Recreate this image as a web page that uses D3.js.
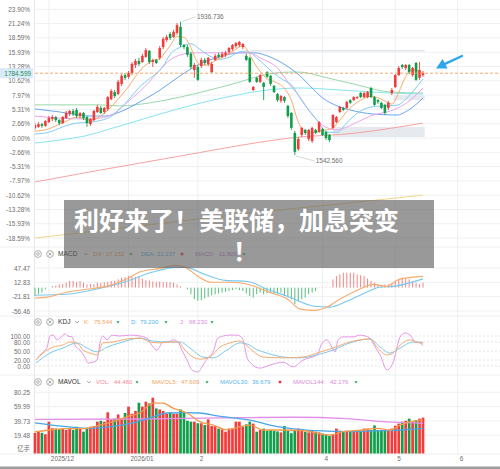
<!DOCTYPE html>
<html><head><meta charset="utf-8">
<script src="https://cdn.jsdelivr.net/npm/d3@7"></script>
<style>html,body{margin:0;padding:0;background:#fff;}svg{display:block;font-family:"Liberation Sans",Arial,sans-serif;}</style>
</head><body><svg id="c" width="500" height="469"></svg>
<script>
// ---------------- DATA ----------------
const basePrice = 1593;           // price of 0.00% line
const lastPrice = 1784.599;
const highPrice = 1936.736, highIdx = 42;
const lowPrice = 1542.56, lowIdx = 75;
const pctTicks = [23.90,21.24,18.59,15.93,13.28,10.62,7.97,5.31,2.66,0,-2.66,-5.31,-7.97,-10.62,-13.28,-15.93,-18.59];
const monthIdx = [4,27,47,83,104,122];
const monthLabels = ['2025/12','2026/01','2','4','5','6'];

const opens = [1623,1626,1634,1629,1640,1649,1655,1646,1637,1652,
1664,1673,1676,1658,1667,1655,1634,1646,1670,1682,
1670,1679,1708,1729,1723,1753,1779,1774,1785,1809,
1821,1818,1833,1851,1818,1824,1830,1862,1883,1901,
1892,1904,1922,1868,1862,1842,1794,1803,1806,1824,
1812,1788,1824,1839,1833,1839,1848,1856,1865,1868,
1862,1836,1830,1735,1771,1759,1756,1788,1777,1747,
1723,1703,1714,1688,1667,1608,1560,1602,1617,1590,
1584,1617,1611,1620,1611,1602,1623,1640,1670,1682,
1682,1705,1705,1711,1726,1714,1714,1741,1714,1705,
1697,1691,1682,1726,1744,1779,1809,1800,1809,1779,
1815,1771,1779];
const closes = [1631,1634,1629,1643,1652,1655,1646,1637,1655,1667,
1673,1664,1658,1667,1652,1637,1649,1673,1685,1667,
1682,1714,1732,1717,1759,1777,1771,1785,1812,1821,
1812,1836,1853,1818,1824,1815,1859,1886,1892,1889,
1907,1927,1868,1862,1839,1803,1809,1765,1824,1815,
1830,1812,1836,1833,1842,1845,1859,1868,1874,1877,
1871,1824,1759,1744,1759,1779,1744,1774,1753,1729,
1705,1717,1703,1658,1623,1552,1590,1623,1608,1617,
1623,1608,1640,1602,1593,1587,1661,1655,1685,1676,
1700,1697,1714,1714,1714,1726,1729,1714,1691,1700,
1682,1667,1697,1735,1779,1800,1803,1809,1788,1800,
1765,1794,1784.599];
const highs = [1637,1640,1637,1646,1658,1661,1658,1649,1658,1673,
1676,1679,1682,1670,1670,1658,1652,1676,1691,1688,
1685,1717,1738,1735,1765,1782,1785,1791,1818,1827,
1830,1842,1859,1853,1827,1827,1865,1892,1898,1907,
1913,1933,1936.736,1871,1868,1848,1815,1809,1830,1830,
1833,1818,1842,1845,1848,1851,1862,1871,1877,1880,
1874,1842,1833,1747,1774,1782,1759,1791,1779,1750,
1726,1720,1717,1691,1670,1614,1596,1626,1620,1620,
1626,1620,1643,1623,1614,1605,1664,1658,1688,1685,
1703,1708,1717,1717,1729,1729,1732,1744,1717,1708,
1700,1694,1703,1741,1782,1806,1812,1812,1812,1803,
1818,1818,1791];
const lows = [1617,1623,1623,1626,1637,1643,1640,1631,1634,1649,
1658,1658,1652,1652,1646,1626,1629,1643,1667,1664,
1664,1673,1705,1711,1720,1747,1765,1768,1779,1800,
1806,1815,1830,1812,1803,1812,1824,1856,1877,1883,
1889,1898,1862,1856,1833,1797,1771,1762,1800,1809,
1806,1785,1821,1830,1830,1833,1842,1851,1859,1862,
1856,1821,1756,1732,1756,1756,1705,1771,1747,1726,
1700,1697,1697,1652,1617,1542.56,1555,1596,1602,1584,
1578,1605,1608,1599,1587,1581,1620,1637,1667,1673,
1679,1694,1703,1708,1711,1711,1711,1711,1688,1694,
1679,1661,1676,1720,1741,1777,1797,1794,1782,1774,
1762,1765,1774];

// moving averages: [candle index, price]
const ma5 = [[0,1613],[4,1620],[6,1629],[9,1643],[12,1655],[14,1650],[16,1645],[18,1652],[20,1666],[22,1685],[24,1708],[27,1745],[29,1775],[31,1800],[34,1822],[36,1828],[38,1852],[39,1866],[41,1893],[43,1891],[45,1860],[46,1836],[47,1816],[48,1808],[50,1810],[52,1822],[55,1836],[58,1856],[60,1866],[61.5,1850],[63,1820],[65,1790],[67,1768],[69,1760],[72,1740],[74,1705],[76,1640],[78.5,1608],[81,1610],[84,1617],[86,1623],[88,1646],[91,1682],[94,1705],[97,1716],[99,1712],[102,1697],[103,1693],[105,1728],[107,1775],[109,1795],[112,1786]];
const ma10 = [[0,1605],[4,1610],[8,1626],[12,1637],[16,1640],[19,1645],[22,1657],[24.5,1680],[27.5,1712],[30,1742],[33,1768],[37,1805],[39,1840],[42,1862],[45,1872],[47.6,1855],[50.5,1835],[53.4,1826],[56.3,1833],[59,1848],[61,1850],[64,1830],[67,1802],[70,1776],[72.7,1759],[73.6,1754],[77.4,1697],[81.4,1646],[84.3,1610],[87.2,1610],[90,1638],[93,1666],[96.7,1684],[100.5,1688],[104.5,1690],[108.3,1722],[112,1768]];
const ma20 = [[0,1658],[7,1652],[16,1649],[19,1652],[22,1661],[27.4,1705],[33,1759],[36,1794],[39,1824],[42,1839],[46,1845],[62,1845],[65,1830],[70,1800],[73.6,1750],[76.5,1714],[79.4,1670],[83,1631],[87,1617],[93,1640],[97.6,1661],[101.6,1670],[105.4,1685],[108.3,1705],[112,1741]];
const ma30 = [[0,1679],[7.2,1670],[15.9,1658],[20.2,1658],[24.5,1670],[30.3,1700],[36.1,1735],[41.9,1777],[47.6,1812],[53.4,1833],[59.2,1845],[63.5,1845],[67.8,1833],[73.6,1800],[76.5,1777],[79.4,1747],[83.1,1711],[87.2,1688],[90.9,1676],[97.6,1664],[104.5,1661],[107.4,1673],[112,1711]];
const ma60 = [[0,1691],[18.8,1691],[24.5,1688],[33.2,1697],[41.9,1714],[50.5,1735],[59.2,1759],[65,1777],[73.6,1788],[76.5,1788],[83.1,1774],[93,1750],[102.5,1729],[112,1726]];
const ma120 = [[0,1578],[7.2,1587],[14.4,1599],[21.7,1620],[28.3,1640],[36.1,1664],[45.6,1691],[55.4,1714],[65,1732],[76.5,1741],[88,1735],[102.5,1726],[112,1723]];
const ma250 = [[0,1463],[18.8,1498],[33.2,1524],[47.6,1550],[62.1,1576],[73.6,1593],[93,1608],[105.4,1626],[112,1637]];
const ma500 = [[0,1297],[30.3,1333],[62.1,1371],[88,1398],[112,1424]];
const zones = [[86,112.5,1596,1626],[103.5,112.5,1705,1720]];
const levelLine = [62,112.5,1851];

// MACD
const macdTicks = [47.47,12.83,-21.81,-56.46];
const macdHist = [-20,-16,-12,-4,0,4,5,8,9,12,
16,16,14,16,12,8,9,8,12,11,
13,14,16,17,20,24,25,28,26,26,
26,22,18,17,15,14,15,13,13,13,
12,8,3,0,-4,-16,-28,-32,-30,-26,
-22,-18,-16,-14,-12,-10,-8,-6,-4,-6,
-8,-14,-20,-24,-16,-12,-16,-14,-12,-16,
-14,-12,-20,-24,-28,-40,-34,-28,-24,-16,
-12,-8,1,1,1,1,20,28,32,36,
36,36,36,32,30,28,22,16,12,8,
4,8,8,10,16,20,24,22,20,16,
12,8,11.829];
const dif = [[0,-25.7],[3.4,-23],[9.1,-11],[14.9,-4],[20.6,3],[26.3,20],[30,37],[35.7,46],[40.6,53.5],[43.4,49],[47.1,27],[50.9,13],[56.6,13],[61.4,8],[67,-9],[72.9,-28],[76.6,-52],[80.6,-55],[84.3,-47],[88,-28],[93.7,-4],[97.7,8],[101.4,3],[105.1,20],[112,27.152]];
const dea = [[0,-18.5],[9.1,-16],[18.6,-2],[26.3,15],[33.7,37],[40.6,49],[43.4,49],[49.1,32],[54.9,17.5],[61.4,15],[67,-4],[72.9,-21],[80.6,-45],[85.1,-47],[90,-33],[95.7,-11],[99.4,1],[103.4,3],[112,21.237]];

// KDJ
const kdjTicks = [100,80,50,20,0];
const kLine = [[0.3,20],[2.3,43],[5.2,63],[8.1,70],[10.1,80],[12.1,77],[13.9,53],[15.9,43],[17.9,37],[19.6,77],[22.5,80],[26.6,90],[30.3,93],[33.2,80],[36.1,77],[39,80],[41.3,80],[43.3,53],[45.6,30],[47.6,23],[50.5,30],[53.4,63],[56.3,77],[59.2,83],[60.9,70],[62.9,50],[65.8,30],[71.6,27],[77.4,30],[81.4,43],[86,60],[90.9,80],[96.7,90],[98.7,63],[101.6,37],[103.3,43],[105.4,70],[108.3,87],[110.3,80],[112,75.544]];
const dLine = [[0.3,10],[4.3,43],[8.1,60],[12.1,77],[15,60],[17.9,47],[20.8,63],[24.5,77],[30.3,93],[34.1,83],[38.1,80],[41.9,80],[44.7,60],[48.5,30],[51.4,27],[55.4,53],[59.2,77],[61.5,72],[64,55],[67,43],[71.6,30],[76.5,27],[81.4,37],[86,53],[90.9,77],[96.7,90],[99.6,63],[102.5,43],[105.4,60],[109.1,80],[112,79.2]];
const jLine = [[0.3,20],[2,43],[3.5,63],[4.3,100],[5.2,103],[6.4,87],[7.2,93],[8.7,107],[9.5,100],[10.7,97],[11.5,70],[13,53],[14.4,30],[15.3,10],[16.7,13],[17.9,20],[18.8,80],[19.6,100],[20.8,87],[22.2,103],[24.5,100],[27.4,103],[30.3,100],[32.3,93],[34.1,63],[35.2,53],[37,80],[38.4,80],[39.8,87],[41.3,80],[42.4,53],[43.9,20],[45.3,-13],[47.1,-20],[48.5,3],[49.9,27],[51.4,47],[52.8,93],[54.3,100],[56.3,103],[58.3,103],[59.8,93],[61.5,20],[65,-7],[67.8,3],[71.6,13],[74.5,-3],[77.4,20],[81.4,37],[82.9,77],[84.3,87],[85.7,63],[86.6,47],[87.5,87],[88.9,97],[91.8,97],[93.8,103],[96.7,93],[98.2,63],[99.6,37],[101.6,-13],[103.3,10],[105.4,97],[106.8,110],[108.3,103],[109.7,80],[111.1,77],[112,68.23]];

// Volume (亿手)
const volTicks = [80.25,59.99,39.73,19.48];
const volume = [23,24.6,23,21,38.7,29.4,29,28,29,27,
29,27,31.6,29,24.6,29,31.6,32.5,38.7,40,
38.7,52,41,43,48.9,43,51,60,50,54,
65.5,60,67,64.5,72.6,57.5,56,54,50,52,
50,50,56,52,40,38.7,38.7,36.5,36.5,34,
42,32.5,32.5,29,28,24.6,29,29,38.7,38.7,
31.6,35,38.7,36,24.6,27,29,26,27,26,
25,23.6,32.5,26,22.5,26,29,27,24.6,23.6,
26,24.6,23.6,22,20.8,18.5,20.8,29,26,24.6,
26,24.6,26,27,26,29,29,27,33.4,27,
27,27,26,29,33,36,38.7,40,43,38.7,
41,43,44.46];
const mavol5 = [[0,24.6],[4.3,27],[9.2,29],[13.9,29],[18.8,34],[22.5,38.7],[26.6,46],[30.3,51],[34.1,65],[37,65],[39.8,58],[43.9,51],[47.6,38.7],[51.4,34],[55.4,27.4],[59.2,31.6],[62.1,34],[65.8,27],[71.6,27],[77.4,26],[85.2,19.9],[88.9,24.6],[94.7,27],[98.7,29.4],[102.5,27],[105.4,34],[108.3,38.7],[112,41]];
const mavol30 = [[0,37],[9.2,31.6],[15.9,29.4],[21.7,31.6],[28.3,37],[33.2,44],[38.1,51],[43.9,51.4],[47.6,51],[52.5,47],[57.2,44],[62.1,41],[67.8,34],[73.6,29.4],[81.4,26],[90.9,24.6],[100.5,26],[105.4,27],[112,29.4]];
const mavol144 = [[0,42],[30,42.5],[62,44.5],[75,45],[90,43],[103,38],[112,36.5]];

const macdLegend = [['DIF:','27.152','dn'],['DEA:','21.237','sq'],['MACD:','11.829','dn']];
const kdjLegend = [['K:','75.544','dn'],['D:','79.200','dn'],['J:','68.230','dn']];
const volLegend = [['VOL:','44.460','dn'],['MAVOL5:','47.609','dn'],['MAVOL30:','36.679','sq'],['MAVOL144:','42.176','dn']];
const bannerLines = ['利好来了！美联储，加息突变','！'];

// ---------------- DRAW ----------------
const svg = d3.select('#c');
const UP='#f23b3a', DN='#0f9f4b', GRID='#eef0f3', TXT='#6e6e6e';
const x = d3.scaleLinear().domain([0,112]).range([35,423]);
const yM = d3.scaleLinear().domain([0,23.90]).range([138,9.3]);
const pY = p => yM((p/basePrice-1)*100);
const yMacd = d3.scaleLinear().domain([-56.46,47.47]).range([311,268]);
const yK = d3.scaleLinear().domain([0,100]).range([366,336]);
const yV = d3.scaleLinear().domain([19.48,80.25]).range([435.3,392.3]);
const FS = 6.4, HFS = 6.0;

const clip = svg.append('defs');
clip.append('clipPath').attr('id','cm').append('rect').attr('x',35).attr('y',0).attr('width',465).attr('height',247);

// grids
const g0 = svg.append('g');
g0.selectAll('line.v').data(monthIdx).join('line').attr('x1',d=>x(d)).attr('x2',d=>x(d)).attr('y1',0).attr('y2',454).attr('stroke',GRID).attr('stroke-width',1);
g0.append('line').attr('x1',34.5).attr('x2',34.5).attr('y1',0).attr('y2',454).attr('stroke','#e6e8ec');
g0.selectAll('line.hm').data(pctTicks).join('line').attr('x1',35).attr('x2',500).attr('y1',d=>yM(d)).attr('y2',d=>yM(d)).attr('stroke',GRID);
g0.selectAll('line.hmacd').data(macdTicks).join('line').attr('x1',35).attr('x2',500).attr('y1',d=>yMacd(d)).attr('y2',d=>yMacd(d)).attr('stroke',GRID);
g0.selectAll('line.hk').data(kdjTicks).join('line').attr('x1',35).attr('x2',500).attr('y1',d=>yK(d)).attr('y2',d=>yK(d)).attr('stroke','#e4e6ea').attr('stroke-dasharray','2,2');
g0.selectAll('line.hv').data(volTicks).join('line').attr('x1',35).attr('x2',500).attr('y1',d=>yV(d)).attr('y2',d=>yV(d)).attr('stroke',GRID);
[247,316,375,454].forEach(yy=>g0.append('line').attr('x1',0).attr('x2',500).attr('y1',yy).attr('y2',yy).attr('stroke','#eceef1'));

// main panel
const gm = svg.append('g').attr('clip-path','url(#cm)');
gm.selectAll('rect.z').data(zones).join('rect').attr('x',d=>x(d[0])).attr('width',d=>x(d[1])-x(d[0]))
  .attr('y',d=>pY(d[3])).attr('height',d=>pY(d[2])-pY(d[3])).attr('fill','#e6e9ee');
gm.append('line').attr('x1',x(levelLine[0])).attr('x2',x(levelLine[1])).attr('y1',pY(levelLine[2])).attr('y2',pY(levelLine[2])).attr('stroke','#e2e5ea').attr('stroke-width',1.6);
const lnP = d3.line().x(d=>x(d[0])).y(d=>pY(d[1])).curve(d3.curveMonotoneX);
const maSet = [[ma500,'#f3d68c'],[ma250,'#f5a3a3'],[ma120,'#88e4f0'],[ma60,'#9ad9ad'],[ma30,'#6aa6ef'],[ma20,'#e9a4eb'],[ma10,'#80cdf1'],[ma5,'#f6ad6b']];
maSet.forEach(([d,c])=>gm.append('path').attr('d',lnP(d)).attr('fill','none').attr('stroke',c).attr('stroke-width',1));
const idx = d3.range(closes.length);
gm.selectAll('line.w').data(idx).join('line').attr('x1',i=>x(i)).attr('x2',i=>x(i)).attr('y1',i=>pY(highs[i])).attr('y2',i=>pY(lows[i]))
  .attr('stroke',i=>closes[i]>=opens[i]?UP:DN).attr('stroke-width',0.9);
gm.selectAll('rect.b').data(idx).join('rect').attr('x',i=>x(i)-1.3).attr('width',2.6)
  .attr('y',i=>pY(Math.max(opens[i],closes[i]))).attr('height',i=>Math.max(0.9,Math.abs(pY(opens[i])-pY(closes[i]))))
  .attr('fill',i=>closes[i]>=opens[i]?UP:DN);
// last price line
svg.append('line').attr('x1',35).attr('x2',500).attr('y1',pY(lastPrice)).attr('y2',pY(lastPrice)).attr('stroke','#f5a25d').attr('stroke-width',0.9).attr('stroke-dasharray','3,2');
// high / low notes
const hx=x(highIdx), hy=pY(highPrice), lx=x(lowIdx), ly=pY(lowPrice);
svg.append('line').attr('x1',hx+1).attr('y1',hy).attr('x2',hx+15).attr('y2',hy-5).attr('stroke','#c8c8c8').attr('stroke-width',0.7);
svg.append('text').attr('x',hx+16.5).attr('y',hy-3).attr('font-size',FS).attr('fill',TXT).text(highPrice.toFixed(3));
svg.append('line').attr('x1',lx+1).attr('y1',ly+1).attr('x2',lx+20).attr('y2',ly+6).attr('stroke','#c8c8c8').attr('stroke-width',0.7);
svg.append('text').attr('x',lx+21).attr('y',ly+8.3).attr('font-size',FS).attr('fill',TXT).text(lowPrice.toFixed(3));

// axes labels
function leftAxis(scale, ticks, fmt){
  const a = svg.append('g').attr('transform','translate(35,0)').call(d3.axisLeft(scale).tickValues(ticks).tickFormat(fmt).tickSize(0).tickPadding(5));
  a.select('.domain').remove();
  a.selectAll('text').attr('font-size',FS).attr('fill',TXT).attr('font-family','"Liberation Sans",Arial,sans-serif');
  return a;
}
leftAxis(yM, pctTicks, d=>d.toFixed(2)+'%');
leftAxis(yMacd, macdTicks, d=>d.toFixed(2));
leftAxis(yK, kdjTicks, d=>d.toFixed(2));
leftAxis(yV, volTicks, d=>d.toFixed(2));
svg.append('text').attr('x',30).attr('y',451.3).attr('text-anchor','end').attr('font-size',FS).attr('fill',TXT).attr('font-family','"Noto Sans CJK SC",sans-serif').text('亿手');
// price box
const py0 = pY(lastPrice);
svg.append('rect').attr('x',0).attr('y',py0-5).attr('width',33).attr('height',10).attr('fill','#d9eaf8');
svg.append('text').attr('x',31).attr('y',py0+2.3).attr('text-anchor','end').attr('font-size',FS).attr('fill','#1f8f55').text(lastPrice.toFixed(3));

// MACD panel
const z0 = yMacd(0);
svg.append('g').selectAll('line').data(idx).join('line').attr('x1',i=>x(i)).attr('x2',i=>x(i)).attr('y1',z0).attr('y2',i=>yMacd(macdHist[i]))
  .attr('stroke',i=>macdHist[i]>=0?'#f38383':'#55bf7c').attr('stroke-width',1);
const lnM = d3.line().x(d=>x(d[0])).y(d=>yMacd(d[1])).curve(d3.curveMonotoneX);
svg.append('path').attr('d',lnM(dea)).attr('fill','none').attr('stroke','#79c9ef').attr('stroke-width',1.1);
svg.append('path').attr('d',lnM(dif)).attr('fill','none').attr('stroke','#f7ab6c').attr('stroke-width',1.1);

// KDJ panel
const lnK = d3.line().x(d=>x(d[0])).y(d=>yK(d[1])).curve(d3.curveMonotoneX);
svg.append('path').attr('d',lnK(jLine)).attr('fill','none').attr('stroke','#e794e8').attr('stroke-width',1);
svg.append('path').attr('d',lnK(dLine)).attr('fill','none').attr('stroke','#79c9ef').attr('stroke-width',1);
svg.append('path').attr('d',lnK(kLine)).attr('fill','none').attr('stroke','#f7ab6c').attr('stroke-width',1);

// Volume panel
svg.append('g').selectAll('rect').data(idx).join('rect').attr('x',i=>x(i)-1.35).attr('width',2.7)
  .attr('y',i=>yV(volume[i])).attr('height',i=>453.5-yV(volume[i])).attr('fill',i=>closes[i]>=opens[i]?UP:DN);
const lnV = d3.line().x(d=>x(d[0])).y(d=>yV(d[1])).curve(d3.curveMonotoneX);
svg.append('path').attr('d',lnV(mavol144)).attr('fill','none').attr('stroke','#e48fe6').attr('stroke-width',1.3);
svg.append('path').attr('d',lnV(mavol30)).attr('fill','none').attr('stroke','#4aa6e6').attr('stroke-width',1.3);
svg.append('path').attr('d',lnV(mavol5)).attr('fill','none').attr('stroke','#f59a4a').attr('stroke-width',1.3);

// bottom labels
svg.append('g').selectAll('text').data(monthIdx).join('text').attr('x',d=>x(d)+2).attr('y',461).attr('font-size',FS).attr('fill',TXT).text((d,i)=>monthLabels[i]);

// headers
function header(cy, title, titleEnd, items, xs, colors){
  const g = svg.append('g');
  g.append('circle').attr('cx',38).attr('cy',cy).attr('r',3.4).attr('fill','none').attr('stroke','#9c9c9c').attr('stroke-width',0.8);
  g.append('circle').attr('cx',38).attr('cy',cy).attr('r',1.3).attr('fill','none').attr('stroke','#9c9c9c').attr('stroke-width',0.8);
  g.append('circle').attr('cx',50).attr('cy',cy).attr('r',3.4).attr('fill','none').attr('stroke','#9c9c9c').attr('stroke-width',0.8);
  g.append('path').attr('d',`M48.5,${cy-1.5}L51.5,${cy+1.5}M51.5,${cy-1.5}L48.5,${cy+1.5}`).attr('stroke','#9c9c9c').attr('stroke-width',0.8);
  g.append('text').attr('x',58).attr('y',cy+2.3).attr('font-size',6.6).attr('fill','#333').attr('font-weight',500).text(title);
  g.append('path').attr('d',`M${titleEnd-2},${cy-1}L${titleEnd},${cy+1}L${titleEnd+2},${cy-1}`).attr('fill','none').attr('stroke','#888').attr('stroke-width',0.7);
  items.forEach((it,k)=>{
    const [lab,val,mk]=it, [x1,x2,x3]=xs[k], c=colors[k];
    g.append('text').attr('x',x1).attr('y',cy+2.2).attr('font-size',HFS).attr('fill',c).text(lab);
    g.append('text').attr('x',x2).attr('y',cy+2.2).attr('font-size',HFS).attr('fill',c).text(val);
    if(mk==='dn') g.append('path').attr('d',`M${x3-1.6},${cy-0.8}L${x3+1.6},${cy-0.8}L${x3},${cy+1.4}Z`).attr('fill','#1aa34f');
    else g.append('rect').attr('x',x3-1.3).attr('y',cy-1.3).attr('width',2.6).attr('height',2.6).attr('fill','#f23b3a');
  });
}
header(254,'MACD',86,macdLegend,[[93,106,131],[141,157,182],[195,219,244]],['#f4a462','#56b4e6','#c77bd8']);
header(322,'KDJ',77,kdjLegend,[[84,94,118],[131,140,166],[180,189,212]],['#f4a462','#56b4e6','#e08ae2']);
header(382,'MAVOL',89,volLegend,[[96,114,137],[152,181,207],[220,252,280],[293,330,356]],['#f08a98','#f4a462','#56b4e6','#d98ad9']);

// arrow
svg.append('line').attr('x1',462).attr('y1',56).attr('x2',445).attr('y2',63.8).attr('stroke','#2ea6ec').attr('stroke-width',2.4).attr('stroke-linecap','round');
svg.append('path').attr('d','M436,68.5L447.6,68.6L442.6,58.9Z').attr('fill','#2ea6ec');

// banner
svg.append('rect').attr('x',64).attr('y',200).attr('width',370).attr('height',68).attr('fill','rgba(95,95,95,0.64)');
svg.append('text').attr('x',74).attr('y',230).attr('font-size',25).attr('font-weight',700).attr('fill','#fff')
  .attr('font-family','"Noto Sans CJK SC",sans-serif').text(bannerLines[0]);
svg.append('text').attr('x',233).attr('y',261).attr('font-size',25).attr('font-weight',700).attr('fill','#fff')
  .attr('font-family','"Noto Sans CJK SC",sans-serif').text(bannerLines[1]);

// bottom border
svg.append('rect').attr('x',0).attr('y',466.5).attr('width',500).attr('height',2.5).attr('fill','#9d9d9d');
</script></body></html>
